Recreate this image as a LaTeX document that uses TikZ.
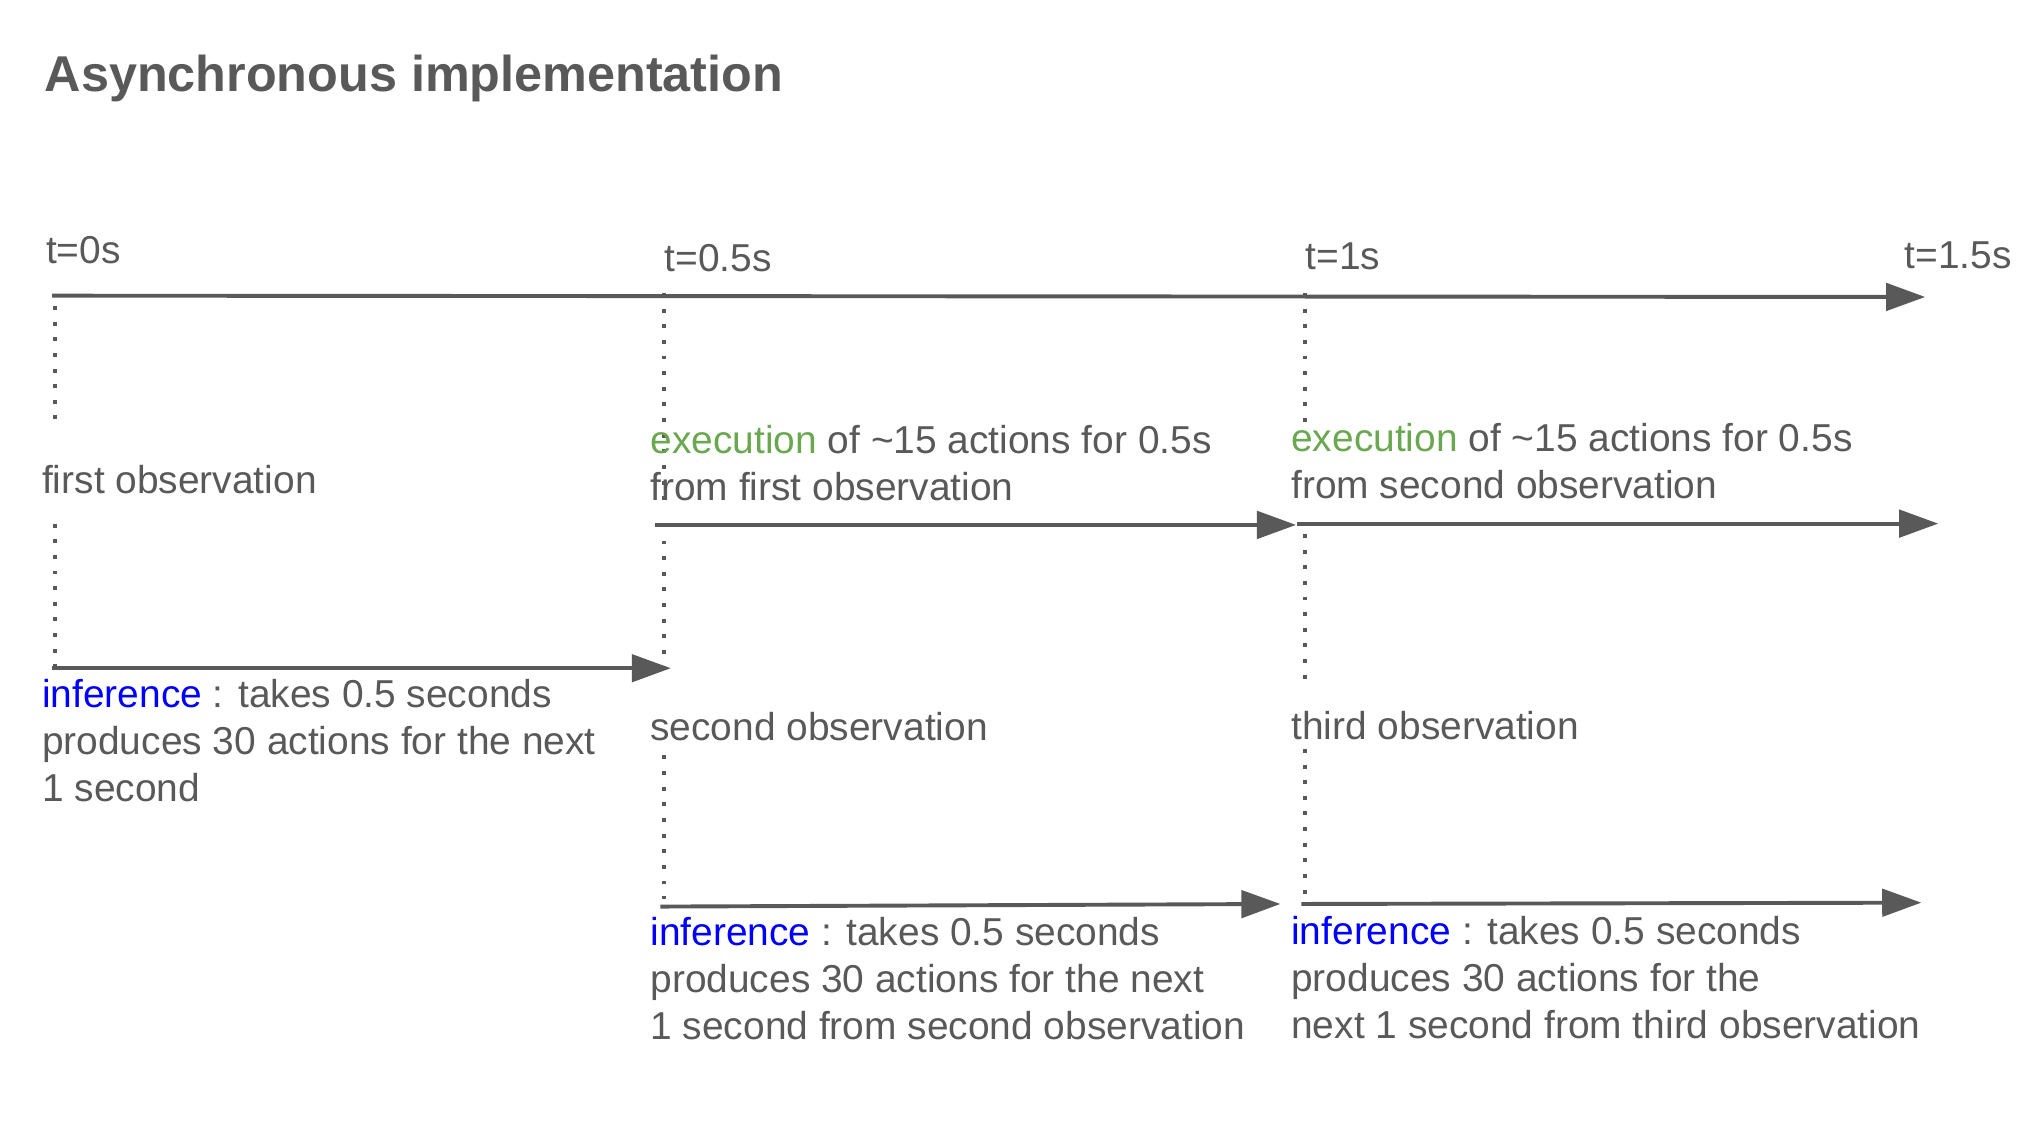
\documentclass[tikz,border=0pt]{standalone}
\usepackage{fontspec}
\setmainfont{Liberation Sans}
\usetikzlibrary{arrows.meta}
\definecolor{tx}{HTML}{595959}
\definecolor{gr}{HTML}{6AA84F}
\definecolor{bl}{HTML}{0000FF}
\begin{document}
\begin{tikzpicture}[x=0.02cm,y=-0.02cm,
  lbl/.style={anchor=west,inner sep=0pt,text=tx,font=\fontsize{17}{20.5}\selectfont,align=left},
  arr/.style={draw=tx,line width=0.06cm,-{Triangle[length=0.6cm,width=0.42cm]}},
  dot/.style={draw=tx,line width=0.06cm,dash pattern=on 0.06cm off 0.18cm}]
\useasboundingbox (0,0) rectangle (1560,864);
\node[lbl,font=\fontsize{22}{26}\selectfont\bfseries] (title) at (34,60) {Asynchronous implementation};
\node[lbl] (t0) at (35,192) {t=0s};
\node[lbl] (t05) at (510,198) {t=0.5s};
\node[lbl] (t1) at (1002,197) {t=1s};
\node[lbl] (t15) at (1462,196) {t=1.5s};
\coordinate (a0) at (40,227); \coordinate (a1) at (1478,228);
\draw[arr] (a0) -- (a1);
\foreach \x/\a/\b in {42/235/330, 42/402/512, 510/225/390, 510/415/515, 510/580/690, 1002/225/330, 1002/410/525, 1002/575/690}
  \draw[dot] (\x,\a) -- (\x,\b);
\node[lbl] (o1) at (32,368) {first observation};
\node[lbl] (o2) at (499,558) {second observation};
\node[lbl] (o3) at (991,557) {third observation};
\node[lbl,anchor=north west] (e1) at (499,326) {\textcolor{gr}{execution} of \textasciitilde15 actions for 0.5s\\from first observation};
\node[lbl,anchor=north west] (e2) at (991,325) {\textcolor{gr}{execution} of \textasciitilde15 actions for 0.5s\\from second observation};
\node[lbl,anchor=north west] (i1) at (32,521) {\textcolor{bl}{inference} : takes 0.5 seconds\\produces 30 actions for the next\\1 second};
\node[lbl,anchor=north west] (i2) at (499,704) {\textcolor{bl}{inference} : takes 0.5 seconds\\produces 30 actions for the next\\1 second from second observation};
\node[lbl,anchor=north west] (i3) at (991,703) {\textcolor{bl}{inference} : takes 0.5 seconds\\produces 30 actions for the\\next 1 second from third observation};
\coordinate (p1) at (503,403); \coordinate (p2) at (995,403);
\coordinate (p3) at (996,402); \coordinate (p4) at (1488,402);
\coordinate (p5) at (40,513); \coordinate (p6) at (515,513);
\coordinate (p7) at (507,696); \coordinate (p8) at (983,694);
\coordinate (p9) at (999,694); \coordinate (p10) at (1475,693);
\draw[arr] (p1) -- (p2);
\draw[arr] (p3) -- (p4);
\draw[arr] (p5) -- (p6);
\draw[arr] (p7) -- (p8);
\draw[arr] (p9) -- (p10);
\end{tikzpicture}
\end{document}
